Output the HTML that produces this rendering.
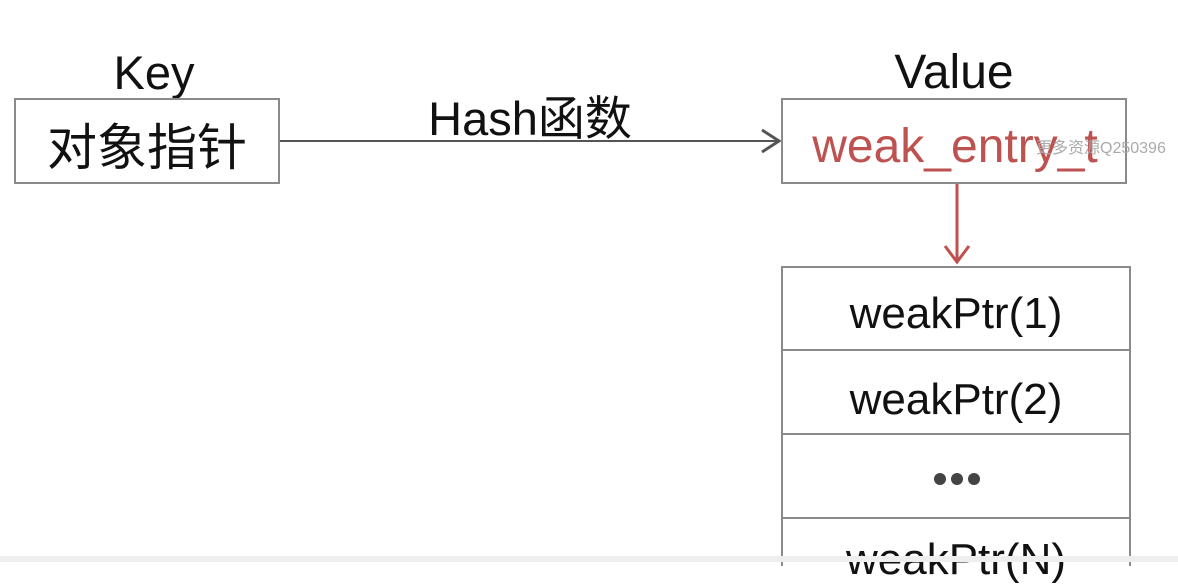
<!DOCTYPE html>
<html><head><meta charset="utf-8"><style>
body{margin:0;width:1178px;height:562px;background:#fff;position:relative;overflow:hidden;font-family:"Liberation Sans","Noto Sans CJK SC",sans-serif;color:#111}
.t{position:absolute;white-space:nowrap;text-align:center}
.box{position:absolute;border:2px solid #8a8a8a;box-sizing:border-box}
</style></head><body>
<div class="t" style="left:14px;width:280px;top:46px;font-size:47px;line-height:54px">Key</div>
<div class="t" style="left:782px;width:344px;top:46px;font-size:48px;line-height:54px">Value</div>
<div class="box" style="left:14px;top:98px;width:266px;height:86px"></div>
<div class="t" style="left:14px;width:266px;top:114px;font-size:50px;line-height:60px;font-family:'Noto Sans CJK SC',sans-serif">对象指针</div>
<div class="t" style="left:380px;width:300px;top:85px;font-size:47px;line-height:60px">Hash<span style="font-family:'Noto Sans CJK SC',sans-serif">函数</span></div>
<svg style="position:absolute;left:0;top:0" width="1178" height="562">
<line x1="280" y1="141" x2="778" y2="141" stroke="#555" stroke-width="2"/>
<polyline points="762,130 779,141 762,152" fill="none" stroke="#555" stroke-width="3"/>
<line x1="957" y1="184" x2="957" y2="260" stroke="#c0504d" stroke-width="3"/>
<polyline points="945,246 957,262 969,246" fill="none" stroke="#c0504d" stroke-width="3"/>
<circle cx="940" cy="479" r="6" fill="#444"/>
<circle cx="957" cy="479" r="6" fill="#444"/>
<circle cx="974" cy="479" r="6" fill="#444"/>
</svg>
<div class="box" style="left:781px;top:98px;width:346px;height:86px"></div>
<div class="t" style="left:790px;width:330px;top:119px;font-size:48px;line-height:56px;color:#bd5250">weak_entry_t</div>
<div class="t" style="left:1036px;top:134px;font-size:16px;color:#aaa;font-family:'Liberation Sans','Noto Sans CJK SC',sans-serif">更多资源Q250396</div>
<div class="box" style="left:781px;top:266px;width:350px;height:300px;border-bottom:none"></div>
<div style="position:absolute;left:781px;top:349px;width:350px;height:2px;background:#8a8a8a"></div>
<div style="position:absolute;left:781px;top:433px;width:350px;height:2px;background:#8a8a8a"></div>
<div style="position:absolute;left:781px;top:517px;width:350px;height:2px;background:#8a8a8a"></div>
<div class="t" style="left:782px;width:348px;top:288px;font-size:44px;line-height:52px">weakPtr(1)</div>
<div class="t" style="left:782px;width:348px;top:374px;font-size:44px;line-height:52px">weakPtr(2)</div>
<div class="t" style="left:782px;width:348px;top:534px;font-size:44px;line-height:52px">weakPtr(N)</div>
<div style="position:absolute;left:0;top:556px;width:1178px;height:6px;background:#eeeeee"></div>
</body></html>
